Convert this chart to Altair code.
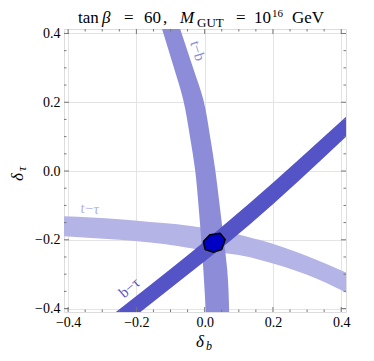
import altair as alt
import pandas as pd

# ---- data ----
# t - tau band (function of delta_b)
tt_x = [-0.42, -0.25, -0.16, -0.08, 0.0, 0.133, 0.16, 0.30, 0.42]
tt_hi = [-0.131, -0.140, -0.148, -0.155, -0.166, -0.193, -0.200, -0.247, -0.298]
tt_lo = [-0.189, -0.200, -0.208, -0.218, -0.232, -0.251, -0.258, -0.302, -0.356]

# t - b band (function of delta_tau)
tb_y = [0.42, 0.30, 0.208, 0.10, 0.004, -0.10, -0.20, -0.286, -0.42]
tb_l = [-0.127, -0.090, -0.063, -0.043, -0.028, -0.018, -0.010, -0.004, 0.004]
tb_r = [-0.074, -0.034, -0.004, 0.016, 0.031, 0.044, 0.056, 0.066, 0.072]

# b - tau band (function of delta_b)
bt_x = [-0.30, -0.26, -0.101, 0.133, 0.42]
bt_hi = [-0.440, -0.410, -0.286, -0.092, 0.163]
bt_lo = [-0.495, -0.465, -0.342, -0.155, 0.105]

# allowed region (intersection)
hex_x = [-0.004, 0.016, 0.045, 0.060, 0.050, 0.026, 0.0015, -0.004]
hex_y = [-0.205, -0.185, -0.181, -0.199, -0.228, -0.236, -0.228, -0.205]

band_labels = ["t\u2212b", "t\u2212\u03c4", "b\u2212\u03c4"]
label_x = [-0.02, -0.336, -0.221]
label_y = [0.35, -0.109, -0.339]

major_ticks = [-0.4, -0.2, 0.0, 0.2, 0.4]
minor_ticks = [-0.35, -0.3, -0.25, -0.15, -0.1, -0.05, 0.05, 0.1, 0.15, 0.25, 0.3, 0.35]

W, H = 282, 283
XD = [-0.412, 0.414]
YD = [-0.41, 0.413]
SERIF = "Liberation Serif"

C_TT = "#b4b4e6"
C_TB = "#8c8cd9"
C_BT = "#5454c6"
C_HEX = "#0000c4"

xs = alt.Scale(domain=XD, nice=False, zero=False)
ys = alt.Scale(domain=YD, nice=False, zero=False)

tt_df = pd.DataFrame({"x": tt_x, "hi": tt_hi, "lo": tt_lo})
tb_df = pd.DataFrame({"y": tb_y, "l": tb_l, "r": tb_r})
bt_df = pd.DataFrame({"x": bt_x, "hi": bt_hi, "lo": bt_lo})
hex_df = pd.DataFrame({"x": hex_x, "y": hex_y, "o": list(range(len(hex_x)))})
lab_df = pd.DataFrame({"t": band_labels, "x": label_x, "y": label_y})
maj_df = pd.DataFrame({"v": major_ticks})
min_df = pd.DataFrame({"v": minor_ticks})

x_axis = alt.Axis(values=major_ticks, format=".1f", grid=True, gridColor="#e4e4e4",
                  tickSize=0, domain=False, labelFont=SERIF, labelFontSize=14,
                  labelColor="black", labelPadding=3, title=None)
y_axis = alt.Axis(values=major_ticks, format=".1f", grid=True, gridColor="#e4e4e4",
                  tickSize=0, domain=False, labelFont=SERIF, labelFontSize=14,
                  labelColor="black", labelPadding=4, title=None)


def X(f):
    return alt.X(f, type="quantitative", scale=xs, axis=x_axis)


def Y(f):
    return alt.Y(f, type="quantitative", scale=ys, axis=y_axis)


tt = alt.Chart(tt_df).mark_area(color=C_TT, interpolate="monotone", clip=True).encode(
    x=X("x"), y=Y("hi"), y2="lo:Q",
)
tb = alt.Chart(tb_df).mark_area(color=C_TB, orient="horizontal", interpolate="monotone", clip=True).encode(
    y=Y("y"), x=X("l"), x2="r:Q",
)
bt = alt.Chart(bt_df).mark_area(color=C_BT, interpolate="monotone", clip=True).encode(
    x=X("x"), y=Y("hi"), y2="lo:Q",
)
hexa = alt.Chart(hex_df).mark_line(fill=C_HEX, stroke="black", strokeWidth=1.5, strokeJoin="round").encode(
    x=X("x"), y=Y("y"), order="o:Q",
)


def band_label(i, color, angle):
    d = lab_df.iloc[[i]]
    return alt.Chart(d).mark_text(font=SERIF, fontSize=15, color=color, angle=angle,
                                  align="center", baseline="middle").encode(
        x=X("x"), y=Y("y"), text="t:N",
    )


labels = [band_label(0, C_TB, 72), band_label(1, C_TT, 4), band_label(2, C_BT, 320)]

TICK = "#777777"


def ticks(df, L):
    b = alt.Chart(df).mark_rule(color=TICK, strokeWidth=1).encode(
        x=X("v"), y=alt.value(H), y2=alt.value(H - L))
    t = alt.Chart(df).mark_rule(color=TICK, strokeWidth=1).encode(
        x=X("v"), y=alt.value(0), y2=alt.value(L))
    l = alt.Chart(df).mark_rule(color=TICK, strokeWidth=1).encode(
        y=Y("v"), x=alt.value(0), x2=alt.value(L))
    r = alt.Chart(df).mark_rule(color=TICK, strokeWidth=1).encode(
        y=Y("v"), x=alt.value(W), x2=alt.value(W - L))
    return [b, t, l, r]


one = pd.DataFrame({"a": [0]})


def txt(s, x, y, size=17, style="normal", angle=0):
    kw = dict(font=SERIF, fontSize=size, fontStyle=style, align="left",
              baseline="alphabetic", color="black")
    if angle:
        kw["angle"] = angle
    return alt.Chart(one).mark_text(**kw).encode(
        x=alt.value(x), y=alt.value(y), text=alt.value(s))


ox, oy = 64, 29  # plot origin in page pixels
TB = 23  # title baseline (page px)
title_parts = [
    txt("tan", 78 - ox, TB - oy),
    txt("\u03b2", 102 - ox, TB - oy, style="italic"),
    txt("=", 124 - ox, TB - oy),
    txt("60", 144 - ox, TB - oy),
    txt(",", 163 - ox, TB - oy),
    txt("M", 180 - ox, TB - oy, style="italic"),
    txt("GUT", 197 - ox, TB + 4 - oy, size=13),
    txt("=", 236 - ox, TB - oy),
    txt("10", 254 - ox, TB - oy),
    txt("16", 272 - ox, TB - 6 - oy, size=11),
    txt("GeV", 292 - ox, TB - oy),
]
axis_titles = [
    txt("\u03b4", 196 - ox, 347 - oy, size=17, style="italic"),
    txt("b", 206 - ox, 350 - oy, size=12, style="italic"),
    txt("\u03b4", 23 - ox, 181 - oy, size=17, style="italic", angle=270),
    txt("\u03c4", 26 - ox, 171 - oy, size=12, style="italic", angle=270),
]

layers = [tt, tb, bt, hexa] + labels + ticks(maj_df, 5) + ticks(min_df, 2.5) + title_parts + axis_titles

chart = alt.layer(*layers).properties(
    width=W, height=H,
    autosize=alt.AutoSizeParams(type="none"),
    padding={"left": 56, "top": 21, "right": 20, "bottom": 41},
).configure_view(stroke="#999999", strokeWidth=1).configure(background="white")

chart.save("out.html", embed_options={"renderer": "svg", "actions": False})
